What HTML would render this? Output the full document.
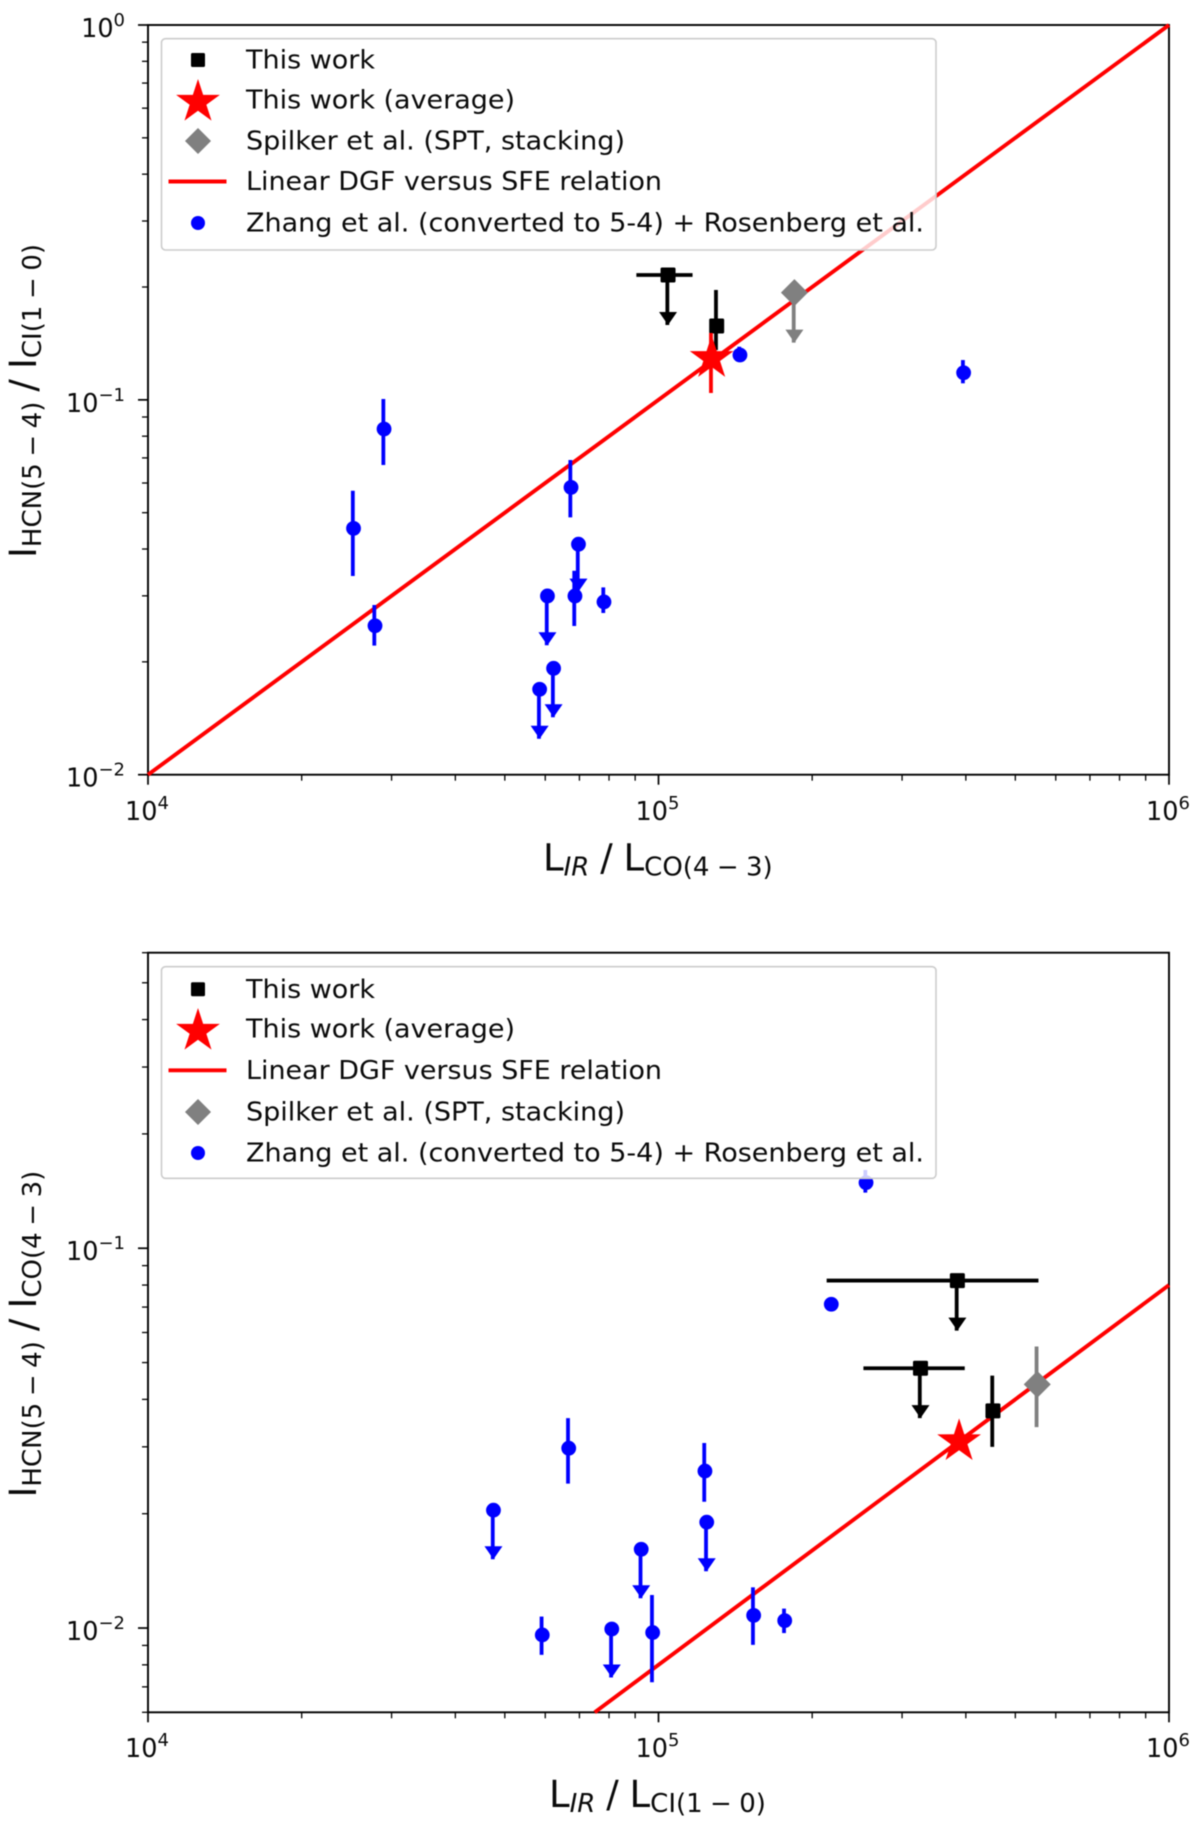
<!DOCTYPE html>
<html lang="en">
<head>
<meta charset="utf-8">
<title>HCN line ratios versus LIR ratios</title>
<style>
html,body{margin:0;padding:0;background:#fff;width:1200px;height:1827px;overflow:hidden}
svg{display:block;filter:blur(.6px)}
text{font-family:"DejaVu Sans","Liberation Sans",sans-serif;fill:#0a0a0a}
.tick{font-size:25.5px}
.sup{font-size:18px}
.leg{font-size:26px}
.lab{font-size:37px}
.sub{font-size:26px}
</style>
</head>
<body>
<svg id="chart" xmlns="http://www.w3.org/2000/svg" width="1200" height="1827" viewBox="0 0 1200 1827"></svg>
<script>
// ---------- top panel data ----------
const topXTickExponents = [4, 5, 6];
const topYTickExponents = [0, -1, -2];
const topLineX = [1e4, 1e6];
const topLineY = [1e-2, 1];
const topZhangX = [2.527e4, 2.784e4, 6.74e4, 6.97e4, 6.06e4, 6.86e4, 7.82e4, 6.23e4, 5.85e4, 2.90e4, 1.444e5, 3.96e5];
const topZhangY = [0.0454, 0.02497, 0.0584, 0.0412, 0.02998, 0.02998, 0.0289, 0.01922, 0.0169, 0.0836, 0.1317, 0.1181];
const topZhangLow = [0.0339, 0.0221, 0.0486, 0.0308, 0.02214, 0.02493, 0.0270, 0.01423, 0.01247, 0.0670, 0.1277, 0.1107];
const topZhangHigh = [0.0572, 0.02836, 0.0691, 0.0412, 0.02998, 0.0350, 0.0316, 0.01922, 0.0169, 0.1005, 0.1386, 0.1277];
const topZhangLimit = [false, false, false, true, true, false, false, true, true, false, false, false];
const topWorkX = [1.044e5, 1.300e5];
const topWorkY = [0.2153, 0.1574];
const topWorkLow = [0.1584, 0.1358];
const topWorkHigh = [0.2153, 0.1964];
const topWorkXLow = [9.05e4, 1.300e5];
const topWorkXHigh = [1.166e5, 1.300e5];
const topWorkLimit = [true, false];
const topSpilkerX = [1.846e5];
const topSpilkerY = [0.1932];
const topSpilkerLow = [0.1421];
const topSpilkerHigh = [0.1932];
const topSpilkerLimit = [true];
const topAverageX = [1.271e5];
const topAverageY = [0.1291];
const topAverageLow = [0.1043];
const topAverageHigh = [0.1508];

// ---------- bottom panel data ----------
const botXTickExponents = [4, 5, 6];
const botYTickExponents = [-1, -2];
const botLineX = [7.5e4, 1e6];
const botLineY = [6e-3, 8e-2];
const botZhangX = [2.55e5, 2.18e5, 1.233e5, 4.75e4, 6.67e4, 1.243e5, 9.25e4, 5.92e4, 8.10e4, 9.74e4, 1.536e5, 1.767e5];
const botZhangY = [0.1488, 0.0712, 0.0259, 0.02043, 0.02975, 0.0190, 0.01612, 0.00959, 0.00994, 0.00973, 0.0108, 0.01046];
const botZhangLow = [0.1401, 0.0712, 0.0215, 0.01517, 0.0240, 0.01411, 0.01198, 0.0085, 0.00741, 0.0072, 0.00903, 0.0097];
const botZhangHigh = [0.1607, 0.0735, 0.0307, 0.02043, 0.0357, 0.0190, 0.01612, 0.01072, 0.00994, 0.01222, 0.0128, 0.01125];
const botZhangLimit = [false, false, false, true, false, true, true, false, true, false, false, false];
const botWorkX = [3.85e5, 3.26e5, 4.52e5];
const botWorkY = [0.0822, 0.0483, 0.0373];
const botWorkLow = [0.0607, 0.0357, 0.0300];
const botWorkHigh = [0.0822, 0.0483, 0.0462];
const botWorkXLow = [2.135e5, 2.52e5, 4.52e5];
const botWorkXHigh = [5.55e5, 3.98e5, 4.52e5];
const botWorkLimit = [true, true, false];
const botSpilkerX = [5.52e5];
const botSpilkerY = [0.0438];
const botSpilkerLow = [0.0338];
const botSpilkerHigh = [0.0551];
const botSpilkerLimit = [false];
const botAverageX = [3.88e5];
const botAverageY = [0.0310];
const botAverageLow = [0.0310];
const botAverageHigh = [0.0310];

// ---------- drawing ----------
const NS = 'http://www.w3.org/2000/svg';
const root = document.getElementById('chart');
function make(parent, tag, attrs, content) {
  const n = document.createElementNS(NS, tag);
  for (const k in attrs) n.setAttribute(k, attrs[k]);
  if (content !== undefined) n.textContent = content;
  parent.appendChild(n);
  return n;
}
function starPoints(cx, cy, R) {
  const pts = [];
  for (let i = 0; i < 10; i++) {
    const r = i % 2 ? R * 0.382 : R;
    const a = -Math.PI / 2 + i * Math.PI / 5;
    pts.push((cx + r * Math.cos(a)).toFixed(2) + ',' + (cy + r * Math.sin(a)).toFixed(2));
  }
  return pts.join(' ');
}
function diamondPoints(cx, cy, R) {
  return [cx, cy - R, cx + R, cy, cx, cy + R, cx - R, cy].join(' ');
}

function drawArrowHead(g, px, tipY, color) {
  const el = make(g, 'polygon', {points: (px - 9) + ',' + (tipY - 13) + ' ' + (px + 9) + ',' + (tipY - 13) + ' ' + px + ',' + tipY, fill: color});
  
  
}
function drawBars(g, sx, sy, color, xv, yv, lo, hi, xlo, xhi, lim) {
  xv.forEach(function (v, i) {
    const px = sx(v), py = sy(yv[i]);
    if (lo[i] !== hi[i]) {
      const bar = make(g, 'line', {x1: px - 0.7, x2: px - 0.7, y1: sy(hi[i]), y2: sy(lo[i]), stroke: color, 'stroke-width': 3.8});
      
      
    }
    if (xlo && xlo[i] !== xhi[i]) {
      const hbar = make(g, 'line', {x1: sx(xlo[i]), x2: sx(xhi[i]), y1: py, y2: py, stroke: color, 'stroke-width': 3.8});
      
      
    }
    if (lim && lim[i]) drawArrowHead(g, px, sy(lo[i]), color);
  });
}
function drawPanel(box, sx, sy, xExp, yExp, minorY, cfg) {
  const g = make(root, 'g', {});
  
  

  const frame = make(g, 'rect', {x: box.l, y: box.t, width: box.r - box.l, height: box.b - box.t, fill: '#fff', stroke: '#000', 'stroke-width': 1.9});
  
  

  // minor ticks
  [4, 5].forEach(function (e) {
    for (let m = 2; m < 10; m++) {
      const px = sx(m * Math.pow(10, e));
      const tick = make(g, 'line', {x1: px, x2: px, y1: box.b, y2: box.b + 6, stroke: '#000', 'stroke-width': 1.3});
      
      
    }
  });
  minorY.forEach(function (v) {
    const py = sy(v);
    const tick = make(g, 'line', {x1: box.l - 6, x2: box.l, y1: py, y2: py, stroke: '#000', 'stroke-width': 1.3});
    
    
  });
  // major ticks + labels
  xExp.forEach(function (e) {
    const px = sx(Math.pow(10, e));
    const tick = make(g, 'line', {x1: px, x2: px, y1: box.b, y2: box.b + 10, stroke: '#000', 'stroke-width': 1.7});
    
    
    const label = make(g, 'text', {x: px - 1, y: cfg.xTickBase, 'text-anchor': 'middle', class: 'tick'});
    
    
    make(label, 'tspan', {}, '10');
    make(label, 'tspan', {class: 'sup', dy: -11}, String(e));
  });
  yExp.forEach(function (e) {
    const py = sy(Math.pow(10, e));
    const tick = make(g, 'line', {x1: box.l - 10, x2: box.l, y1: py, y2: py, stroke: '#000', 'stroke-width': 1.7});
    
    
    const label = make(g, 'text', {x: box.l - 23, y: py + 12, 'text-anchor': 'end', class: 'tick'});
    
    
    make(label, 'tspan', {}, '10');
    make(label, 'tspan', {class: 'sup', dy: -11}, String(e).replace('-', '\u2212'));
  });

  // relation line
  const rel = make(g, 'line', {x1: sx(cfg.lineX[0]), y1: sy(cfg.lineY[0]), x2: sx(cfg.lineX[1]), y2: sy(cfg.lineY[1]), stroke: '#f00', 'stroke-width': 3.9});
  
  

  // Zhang points
  drawBars(g, sx, sy, '#00f', cfg.zx, cfg.zy, cfg.zlo, cfg.zhi, null, null, cfg.zlim);
  cfg.zx.forEach(function (v, i) {
    const c = make(g, 'circle', {cx: sx(v), cy: sy(cfg.zy[i]), r: 7.4, fill: '#00f'});
    
    
  });
  // This work
  drawBars(g, sx, sy, '#000', cfg.wx, cfg.wy, cfg.wlo, cfg.whi, cfg.wxlo, cfg.wxhi, cfg.wlim);
  cfg.wx.forEach(function (v, i) {
    const s = make(g, 'rect', {x: sx(v) - 7.5, y: sy(cfg.wy[i]) - 7.5, width: 15, height: 15, rx: 1.5, fill: '#000'});
    
    
  });
  // Spilker
  drawBars(g, sx, sy, '#808080', cfg.sx, cfg.sy, cfg.slo, cfg.shi, null, null, cfg.slim);
  cfg.sx.forEach(function (v, i) {
    const d = make(g, 'polygon', {points: diamondPoints(sx(v), sy(cfg.sy[i]), 13.5), fill: '#808080'});
    
    
  });
  // Average
  drawBars(g, sx, sy, '#f00', cfg.ax, cfg.ay, cfg.alo, cfg.ahi, null, null, null);
  cfg.ax.forEach(function (v, i) {
    const st = make(g, 'polygon', {points: starPoints(sx(v), sy(cfg.ay[i]), 23), fill: '#f00'});
    
    
  });

  // legend
  const lg = make(g, 'g', {});
  
  
  const lb = make(lg, 'rect', {x: 161.5, y: cfg.legTop, width: 774.5, height: cfg.legBottom - cfg.legTop, rx: 4, fill: '#fff', 'fill-opacity': 0.8, stroke: '#ccc', 'stroke-width': 1.6});
  
  
  cfg.legend.forEach(function (row) {
    const t = make(lg, 'text', {x: 246, y: row.y + 8.5, class: 'leg', textLength: row.w, lengthAdjust: 'spacingAndGlyphs'}, row.text);
    
    
    let m;
    if (row.kind === 'square') m = make(lg, 'rect', {x: 191, y: row.y - 7, width: 14, height: 14, rx: 1.5, fill: '#000'});
    if (row.kind === 'star') m = make(lg, 'polygon', {points: starPoints(198, row.y + 2, 23), fill: '#f00'});
    if (row.kind === 'diamond') m = make(lg, 'polygon', {points: diamondPoints(198, row.y, 13), fill: '#808080'});
    if (row.kind === 'line') m = make(lg, 'line', {x1: 168.5, x2: 226.5, y1: row.y, y2: row.y, stroke: '#f00', 'stroke-width': 3.9});
    if (row.kind === 'dot') m = make(lg, 'circle', {cx: 198, cy: row.y, r: 7, fill: '#00f'});
    
    
  });

  // axis titles
  const xt = make(g, 'text', {x: cfg.xTitleX, y: cfg.xTitleY, class: 'lab', style: 'word-spacing:-0.9px'});
  
  
  make(xt, 'tspan', {}, 'L');
  make(xt, 'tspan', {class: 'sub', dy: 5, 'font-style': 'italic'}, 'IR');
  make(xt, 'tspan', {dy: -5}, ' / L');
  make(xt, 'tspan', {class: 'sub', dy: 5}, cfg.xSub);

  const yt = make(g, 'text', {transform: 'translate(' + cfg.yTitleX + ',' + cfg.yTitleY + ') rotate(-90)', class: 'lab', style: 'word-spacing:-1.7px'});
  
  
  make(yt, 'tspan', {}, 'I');
  make(yt, 'tspan', {class: 'sub', dy: 5}, 'HCN(5 \u2212 4)');
  make(yt, 'tspan', {dy: -5}, ' / I');
  make(yt, 'tspan', {class: 'sub', dy: 5}, cfg.ySub);
}

// top panel axis functions
const topBox = {l: 148, r: 1169, t: 25, b: 774.7};
function topSx(v) { return topBox.l + (Math.log10(v) - 4) / 2 * (topBox.r - topBox.l); }
function topSy(v) { return topBox.t + (0 - Math.log10(v)) / 2 * (topBox.b - topBox.t); }
const topMinorY = [];
[-1, -2].forEach(function (e) { for (let m = 2; m < 10; m++) topMinorY.push(m * Math.pow(10, e)); });

drawPanel(topBox, topSx, topSy, topXTickExponents, topYTickExponents, topMinorY, {
  name: 'top-panel', xTickBase: 820, lineX: topLineX, lineY: topLineY,
  zx: topZhangX, zy: topZhangY, zlo: topZhangLow, zhi: topZhangHigh, zlim: topZhangLimit,
  wx: topWorkX, wy: topWorkY, wlo: topWorkLow, whi: topWorkHigh, wxlo: topWorkXLow, wxhi: topWorkXHigh, wlim: topWorkLimit,
  sx: topSpilkerX, sy: topSpilkerY, slo: topSpilkerLow, shi: topSpilkerHigh, slim: topSpilkerLimit,
  ax: topAverageX, ay: topAverageY, alo: topAverageLow, ahi: topAverageHigh,
  legTop: 38.7, legBottom: 250,
  legend: [
    {kind: 'square', y: 60, text: 'This work', w: 129},
    {kind: 'star', y: 100, text: 'This work (average)', w: 269},
    {kind: 'diamond', y: 141, text: 'Spilker et al. (SPT, stacking)', w: 379},
    {kind: 'line', y: 181.5, text: 'Linear DGF versus SFE relation', w: 416},
    {kind: 'dot', y: 223, text: 'Zhang et al. (converted to 5-4) + Rosenberg et al.', w: 678}
  ],
  xTitleX: 543, xTitleY: 870.7, xSub: 'CO(4 \u2212 3)',
  yTitleX: 36, yTitleY: 558, ySub: 'CI(1 \u2212 0)'
});

// bottom panel axis functions
const botBox = {l: 148, r: 1169, t: 952.7, b: 1712.3};
function botSx(v) { return botBox.l + (Math.log10(v) - 4) / 2 * (botBox.r - botBox.l); }
function botSy(v) { return botBox.t + (Math.log10(0.6) - Math.log10(v)) / 2 * (botBox.b - botBox.t); }
const botMinorY = [6e-3, 7e-3, 8e-3, 9e-3, 2e-2, 3e-2, 4e-2, 5e-2, 6e-2, 7e-2, 8e-2, 9e-2, 0.2, 0.3, 0.4, 0.5, 0.6];

drawPanel(botBox, botSx, botSy, botXTickExponents, botYTickExponents, botMinorY, {
  name: 'bottom-panel', xTickBase: 1757, lineX: botLineX, lineY: botLineY,
  zx: botZhangX, zy: botZhangY, zlo: botZhangLow, zhi: botZhangHigh, zlim: botZhangLimit,
  wx: botWorkX, wy: botWorkY, wlo: botWorkLow, whi: botWorkHigh, wxlo: botWorkXLow, wxhi: botWorkXHigh, wlim: botWorkLimit,
  sx: botSpilkerX, sy: botSpilkerY, slo: botSpilkerLow, shi: botSpilkerHigh, slim: botSpilkerLimit,
  ax: botAverageX, ay: botAverageY, alo: botAverageLow, ahi: botAverageHigh,
  legTop: 966.7, legBottom: 1178.3,
  legend: [
    {kind: 'square', y: 989.3, text: 'This work', w: 129},
    {kind: 'star', y: 1029, text: 'This work (average)', w: 269},
    {kind: 'line', y: 1070.3, text: 'Linear DGF versus SFE relation', w: 416},
    {kind: 'diamond', y: 1112, text: 'Spilker et al. (SPT, stacking)', w: 379},
    {kind: 'dot', y: 1153, text: 'Zhang et al. (converted to 5-4) + Rosenberg et al.', w: 678}
  ],
  xTitleX: 549, xTitleY: 1807, xSub: 'CI(1 \u2212 0)',
  yTitleX: 36, yTitleY: 1497.5, ySub: 'CO(4 \u2212 3)'
});
</script>
</body>
</html>
